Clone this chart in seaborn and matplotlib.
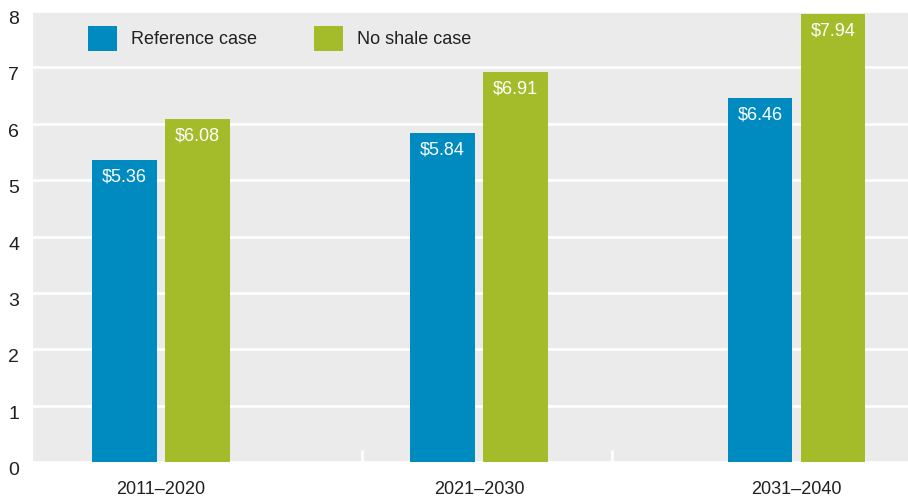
import pandas as pd
import matplotlib.pyplot as plt
import seaborn as sns

# 10년 단위 기간별 평균 가격 (달러)
periods = ['2011–2020', '2021–2030', '2031–2040']
reference_case = [5.36, 5.84, 6.46]
no_shale_case = [6.08, 6.91, 7.94]
series_names = ['Reference case', 'No shale case']
y_ticks = [0, 1, 2, 3, 4, 5, 6, 7, 8]

df = pd.DataFrame({
    'period': periods * 2,
    'case': [series_names[0]] * 3 + [series_names[1]] * 3,
    'value': reference_case + no_shale_case,
})

sns.set_style('white')
plt.rcParams['font.family'] = ['Liberation Sans', 'DejaVu Sans']
text_col = '#231f20'

fig = plt.figure(figsize=(9.08, 4.99), dpi=100)
ax = fig.add_axes([0.0363, 0.0741, 0.9637, 0.9039])
ax.set_facecolor('#ebebeb')

sns.barplot(data=df, x='period', y='value', hue='case',
            palette=['#008bc0', '#a4bc2a'], width=0.46, gap=0.12,
            saturation=1, linewidth=0, ax=ax)

# 막대 안쪽 위에 흰색 값 표시
for cont in ax.containers:
    for bar in cont:
        h = bar.get_height()
        ax.annotate(f'${h:.2f}', (bar.get_x() + bar.get_width() / 2, h),
                    xytext=(0, -6), textcoords='offset points',
                    ha='center', va='top', color='white', fontsize=13)

ax.set_ylim(0, 8)
ax.set_xlim(-0.403, 2.35)
ax.set_yticks(y_ticks)
ax.yaxis.grid(True, color='white', linewidth=2)
ax.set_axisbelow(True)
ax.tick_params(axis='y', length=0, pad=10, labelsize=14, labelcolor=text_col)
for lab in ax.get_yticklabels():
    lab.set_va('top')
ax.tick_params(axis='x', length=0, pad=14, labelsize=13, labelcolor=text_col)
# 그룹 구분용 짧은 흰 눈금
ax.set_xticks([0.633, 1.42], minor=True)
ax.tick_params(axis='x', which='minor', bottom=True, direction='in',
               length=9, width=2, color='white')
ax.set_xlabel('')
ax.set_ylabel('')
for s in ax.spines.values():
    s.set_visible(False)

ax.legend(loc='upper left', bbox_to_anchor=(0.063, 0.967), frameon=False, ncol=2,
          fontsize=13, handlelength=1.6, handleheight=1.8, handletextpad=0.75,
          columnspacing=3.2, borderpad=0, borderaxespad=0, labelcolor=text_col)

fig.savefig('out.png', dpi=100)
